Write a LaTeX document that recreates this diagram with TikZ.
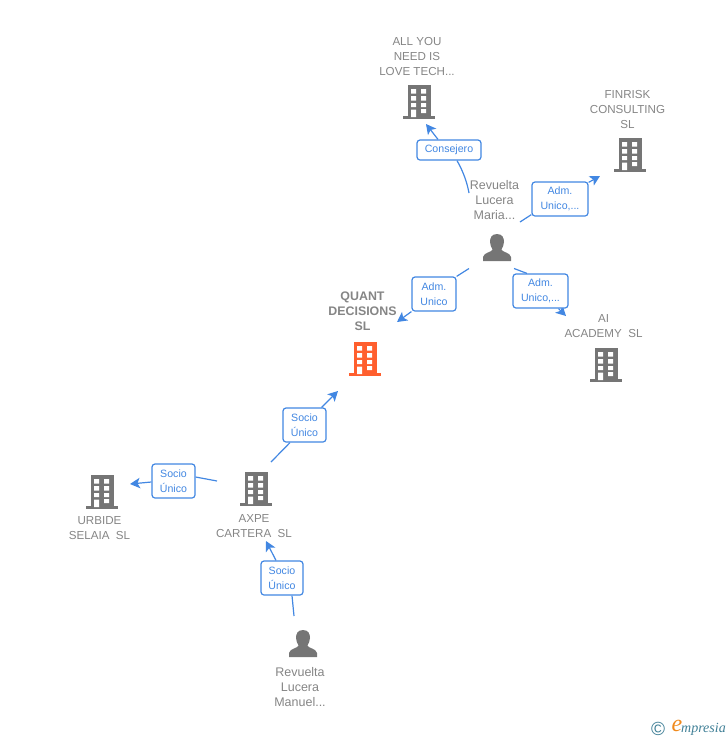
\documentclass[tikz,border=0pt]{standalone}
\usepackage{fontspec}
\setmainfont{Liberation Sans}
\newfontfamily\logofont{Liberation Serif}
\usetikzlibrary{arrows.meta,backgrounds}
\definecolor{lblgray}{HTML}{858585}
\definecolor{icongray}{HTML}{757575}
\definecolor{edgeblue}{HTML}{4287E2}
\definecolor{hot}{HTML}{FF5F2E}
\definecolor{logoteal}{HTML}{3F7F96}
\definecolor{logoorange}{HTML}{F08A1D}
\tikzset{
  lbl/.style={text=lblgray,align=center,inner sep=0pt,font=\fontsize{11.6}{15}\selectfont},
  lblp/.style={lbl,font=\fontsize{12.5}{15}\selectfont},
  lblb/.style={lbl,font=\fontsize{12.4}{15}\selectfont\bfseries},
  edgebox/.style={draw=edgeblue,line width=1.2pt,rounded corners=3pt,fill=white,text=edgeblue,align=center,inner sep=0pt,
    font=\fontsize{10.6}{15}\selectfont},
  conn/.style={draw=edgeblue,line width=1.2pt},
  connarrow/.style={conn,-{Stealth[length=10pt,width=10.5pt,inset=2.5pt]}},
}
% building icon: centre x, top y, colour, node name
\newcommand\bldg[4]{%
  \begin{scope}[shift={(#1,#2)}]
    \node[inner sep=0pt,minimum width=32pt,minimum height=34pt,anchor=north] (#4) at (0,0) {};
    \fill[#3] (-11.5,0) rectangle (11.5,32);
    \fill[#3] (-16,31) rectangle (16,33.5);
    \fill[white] (-8,4) rectangle (-3,8.5) (2,4) rectangle (7,8.5)
      (-8,11) rectangle (-3,15.5) (2,11) rectangle (7,15.5)
      (-8,18) rectangle (-3,22) (2,18) rectangle (7,22)
      (-8,24.5) rectangle (-3,32) (2,24) rectangle (7,28);
  \end{scope}}
% person icon: centre x, top y, node name
\newcommand\persona[3]{%
  \begin{scope}[shift={(#1,#2)}]
    \node[inner sep=0pt,minimum width=28pt,minimum height=28pt,anchor=north] (#3) at (0,0) {};
    \fill[icongray] (0,0) .. controls (-5.5,0) and (-7,4) .. (-7,8)
      .. controls (-7,11) and (-5.5,13.5) .. (-4.5,15.5)
      .. controls (-4.5,18) and (-13.5,18.5) .. (-14,23) -- (-14,27) -- (14,27) -- (14,23)
      .. controls (13.5,18.5) and (4.5,18) .. (4.5,15.5)
      .. controls (5.5,13.5) and (7,11) .. (7,8)
      .. controls (7,4) and (5.5,0) .. (0,0) -- cycle;
  \end{scope}}
\begin{document}
\begin{tikzpicture}[x=1pt,y=-1pt]
\useasboundingbox (0,0) rectangle (728,740);
% icons
\bldg{419}{85}{icongray}{nAll}
\bldg{630}{138}{icongray}{nFin}
\bldg{365}{342}{hot}{nQuant}
\bldg{606}{348}{icongray}{nAI}
\bldg{256}{472}{icongray}{nAxpe}
\bldg{102}{475}{icongray}{nUrb}
\persona{497}{234}{nMaria}
\persona{303}{630}{nManuel}
% labels
\node[lbl] (tAll) at (417,56.5) {ALL YOU\\NEED IS\\LOVE TECH...};
\node[lbl] (tFin) at (627.5,109.5) {FINRISK\\CONSULTING\\SL};
\node[lblp] (tMaria) at (494.5,200.5) {Revuelta\\Lucera\\Maria...};
\node[lblb] (tQuant) at (362.5,311.5) {QUANT\\DECISIONS\\SL};
\node[lbl] (tAI) at (603.5,326) {AI\\ACADEMY\ \ SL};
\node[lbl] (tUrb) at (99.5,528) {URBIDE\\SELAIA\ \ SL};
\node[lbl] (tAxpe) at (254,526) {AXPE\\CARTERA\ \ SL};
\node[lblp] (tManuel) at (300,687.5) {Revuelta\\Lucera\\Manuel...};
% edge labels
\node[edgebox,minimum width=64pt,minimum height=20pt] (eCons) at (449,150) {Consejero};
\node[edgebox,minimum width=56pt,minimum height=34pt] (eFin) at (560,199) {Adm.\\Unico,...};
\node[edgebox,minimum width=44pt,minimum height=34pt] (eQuant) at (434,294) {Adm.\\Unico};
\node[edgebox,minimum width=55pt,minimum height=34pt] (eAI) at (540.5,291) {Adm.\\Unico,...};
\node[edgebox,minimum width=43pt,minimum height=34pt] (eSoc) at (304.5,425) {Socio\\Único};
\node[edgebox,minimum width=43pt,minimum height=34pt] (eUrb) at (173.5,481) {Socio\\Único};
\node[edgebox,minimum width=42pt,minimum height=34pt] (eAxpe) at (282,578) {Socio\\Único};
% free ends
\coordinate (s1) at (469,193); \coordinate (t1) at (426,124);
\coordinate (s2) at (520,222); \coordinate (t2) at (600,176);
\coordinate (s3) at (469,268.5); \coordinate (t3) at (397,322);
\coordinate (s4) at (514,268.5); \coordinate (t4) at (566,316);
\coordinate (s5) at (271,462); \coordinate (t5) at (338,391);
\coordinate (s6) at (217,481); \coordinate (t6) at (130,484);
\coordinate (s7) at (294,616); \coordinate (t7) at (266,541);
% connectors
\begin{scope}[on background layer]
\draw[conn] (s1) .. controls (467,182) and (463,171) .. ([xshift=8pt]eCons.south);
\draw[connarrow] ([xshift=-11pt]eCons.north) -- (t1);
\draw[conn] (s2) -- ([yshift=2pt]eFin.south west);
\draw[connarrow] ([yshift=-1pt]eFin.north east) -- (t2);
\draw[conn] (s3) -- (eQuant.north east);
\draw[connarrow] (eQuant.south west) -- (t3);
\draw[conn] (s4) -- ([xshift=-13.5pt]eAI.north);
\draw[connarrow] (eAI) -- (t4);
\draw[conn] (s5) -- ([xshift=-14.5pt]eSoc.south);
\draw[connarrow] ([xshift=17pt]eSoc.north) -- (t5);
\draw[conn] (s6) -- ([yshift=4pt]eUrb.east);
\draw[connarrow] ([yshift=-1pt]eUrb.west) -- (t6);
\draw[conn] (s7) -- ([xshift=10pt]eAxpe.south);
\draw[connarrow] ([xshift=-6pt]eAxpe.north) -- (t7);
\end{scope}
% logo
\node[text=logoteal,inner sep=0pt,font=\fontsize{19}{19}\selectfont] (logoC) at (658,729) {©};
\node[text=logoorange,inner sep=0pt,font=\logofont\itshape\fontsize{24}{24}\selectfont] (logoE) at (677,726) {e};
\node[text=logoteal,inner sep=0pt,anchor=west,font=\logofont\itshape\fontsize{14}{14}\selectfont] (logoT) at (681,729.5) {mpresia};
\end{tikzpicture}
\end{document}
